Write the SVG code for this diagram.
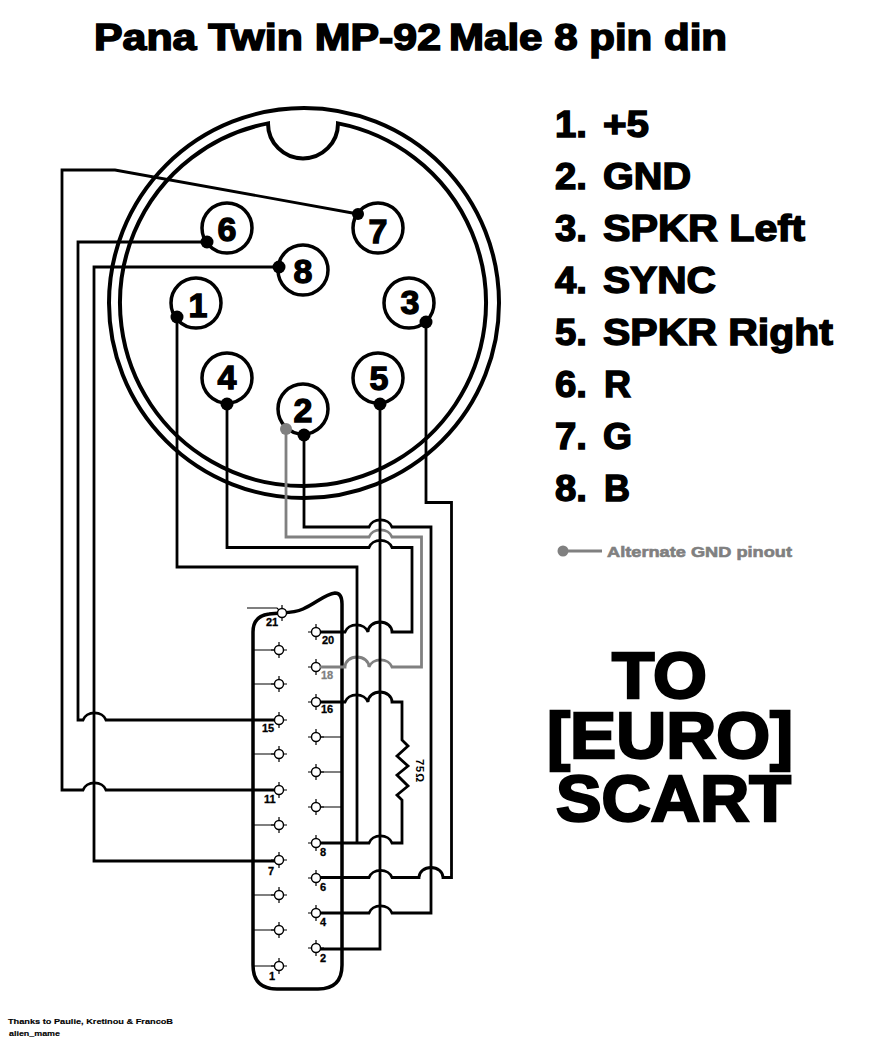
<svg xmlns="http://www.w3.org/2000/svg" xmlns:xlink="http://www.w3.org/1999/xlink" width="884" height="1040" viewBox="0 0 884 1040">
<style>
text{font-family:"Liberation Sans",Arial,sans-serif;font-weight:bold;fill:#000}
.title{font-size:36px;stroke:#000;stroke-width:1.5px}
.list{font-size:36px;stroke:#000;stroke-width:1.4px}
.big{font-size:64px;stroke:#000;stroke-width:2.4px}
.num{font-size:34px;text-anchor:middle;stroke:#000;stroke-width:1.3px}
.lab{font-size:11px;stroke:#000;stroke-width:.3px}
.gray{fill:#808080;stroke:#808080}
.alt{font-size:15px;fill:#808080;stroke:#808080;stroke-width:.6px}
.foot{font-size:8px;stroke:#000;stroke-width:.15px}
.ring{fill:none;stroke:#000;stroke-width:4}
.pinring{fill:#fff;stroke:#000;stroke-width:3.5}
.w{fill:none;stroke:#000;stroke-width:2.8}
.wg{fill:none;stroke:#808080;stroke-width:2.8}
.thin{fill:none;stroke:#000;stroke-width:1.2}
.shell{fill:#fff;stroke:#000;stroke-width:3.5}
.dot{fill:#000}
.dotg{fill:#808080}
.p{fill:#fff;stroke:#000;stroke-width:1.4}
</style>
<defs>
<g id="sp"><path class="thin" d="M0-8V8M-8 0H8"/><circle class="p" r="4.5"/></g>
</defs>
<rect width="884" height="1040" fill="#fff"/>
<g id="title">
<text class="title" x="94" y="50" textLength="347" lengthAdjust="spacingAndGlyphs">Pana Twin MP-92</text>
<text class="title" x="449" y="50" textLength="278" lengthAdjust="spacingAndGlyphs">Male 8 pin din</text>
</g>
<g id="din-shell">
<circle class="ring" cx="304" cy="303" r="195"/>
<path class="ring" d="M268 123.400A183 183 0 1 0 338 123.400A35 35 0 0 1 268 123.400Z"/>
</g>
<g id="din-pin-6"><circle class="pinring" cx="227" cy="228" r="25"/><text class="num" x="227" y="241">6</text></g>
<g id="din-pin-7"><circle class="pinring" cx="378" cy="228" r="25"/><text class="num" x="378" y="243">7</text></g>
<g id="din-pin-8"><circle class="pinring" cx="303" cy="270" r="25"/><text class="num" x="303" y="283">8</text></g>
<g id="din-pin-1"><circle class="pinring" cx="196" cy="303" r="25"/><text class="num" x="198" y="317">1</text></g>
<g id="din-pin-3"><circle class="pinring" cx="409" cy="303" r="25"/><text class="num" x="410" y="314">3</text></g>
<g id="din-pin-4"><circle class="pinring" cx="227" cy="378" r="25"/><text class="num" x="227" y="389">4</text></g>
<g id="din-pin-5"><circle class="pinring" cx="378" cy="378" r="25"/><text class="num" x="379" y="390">5</text></g>
<g id="din-pin-2"><circle class="pinring" cx="303" cy="409" r="25"/><text class="num" x="303" y="422">2</text></g>
<g id="scart">
<path class="shell" d="M253 965V632Q253 616 269 614C282 612 292 614 303 609C315 604 325 594 335 593Q342 593 342 604V965Q342 989 318 989H277Q253 989 253 965Z"/>
<path class="thin" d="M253 650H274M253 684H274M253 754H274M253 825H274M253 895H274M253 930H274M253 966H274M321 737H342M321 772H342M321 807H342M247 608H277L281 612"/>
<use xlink:href="#sp" x="282" y="613"/>
<use xlink:href="#sp" x="279" y="650"/>
<use xlink:href="#sp" x="279" y="684"/>
<use xlink:href="#sp" x="279" y="720"/>
<use xlink:href="#sp" x="279" y="754"/>
<use xlink:href="#sp" x="279" y="790"/>
<use xlink:href="#sp" x="279" y="825"/>
<use xlink:href="#sp" x="279" y="860"/>
<use xlink:href="#sp" x="279" y="895"/>
<use xlink:href="#sp" x="279" y="930"/>
<use xlink:href="#sp" x="279" y="966"/>
<use xlink:href="#sp" x="316" y="632"/>
<use xlink:href="#sp" x="316" y="667"/>
<use xlink:href="#sp" x="316" y="702"/>
<use xlink:href="#sp" x="316" y="737"/>
<use xlink:href="#sp" x="316" y="772"/>
<use xlink:href="#sp" x="316" y="807"/>
<use xlink:href="#sp" x="316" y="843"/>
<use xlink:href="#sp" x="316" y="878"/>
<use xlink:href="#sp" x="316" y="913"/>
<use xlink:href="#sp" x="316" y="948"/>
<text class="lab" x="266" y="626">21</text>
<text class="lab" x="322" y="644">20</text>
<text class="lab gray" x="321" y="679">18</text>
<text class="lab" x="321" y="713">16</text>
<text class="lab" x="262" y="732">15</text>
<text class="lab" x="264" y="803">11</text>
<text class="lab" x="268" y="875">7</text>
<text class="lab" x="320" y="856">8</text>
<text class="lab" x="320" y="891">6</text>
<text class="lab" x="320" y="926">4</text>
<text class="lab" x="320" y="962">2</text>
<text class="lab" x="269" y="980">1</text>
</g>
<g id="connectors">
<path class="wg" d="M286 429V537H369A12 10 0 0 1 392 537H421.500V667H392A12 10 0 0 0 369 667A12 10 0 0 0 345 667H320"/>
<path class="w" d="M358 214L115 170H62V790H83A12 10 0 0 1 106 790H275"/>
<path class="w" d="M207 242H78V720H83A12 10 0 0 1 106 720H275"/>
<path class="w" d="M279 267H94V861H275"/>
<path class="w" d="M177 317V567H357V843"/>
<path class="w" d="M320 843H369A12 10 0 0 1 392 843H402V800L397 795L408 786L397 775L408 766L397 756L408 746L402 740V702H392A12 10 0 0 0 368 702A12 10 0 0 0 345 702H320"/>
<path class="w" d="M227 404V547.500H369A12 10 0 0 1 392 547.500H412V632H392A12 10 0 0 0 368 632A12 10 0 0 0 345 632H320"/>
<path class="w" d="M304 435V527H369A12 10 0 0 1 392 527H431V913H392A12 10 0 0 0 369 913H320"/>
<path class="w" d="M426 322V502.500H451.500V877.500H443A12 10 0 0 0 419 877.500H392A12 10 0 0 0 369 877.500H320"/>
<path class="w" d="M380 404V949H320"/>
<circle class="dot" cx="358" cy="214" r="6"/>
<circle class="dot" cx="207" cy="242" r="6.500"/>
<circle class="dot" cx="279" cy="267" r="6.500"/>
<circle class="dot" cx="177" cy="317" r="6.500"/>
<circle class="dot" cx="426" cy="322" r="6.500"/>
<circle class="dot" cx="227" cy="404" r="6.500"/>
<circle class="dot" cx="380" cy="404" r="6.500"/>
<circle class="dot" cx="304" cy="435" r="6.500"/>
<circle class="dotg" cx="286" cy="429" r="6"/>
</g>
<g id="res-label"><text transform="translate(416 759) rotate(90)" style="font-size:11px;letter-spacing:1px">75Ω</text></g>
<g id="pinout">
<text class="list" x="555" y="137" textLength="32" lengthAdjust="spacingAndGlyphs">1.</text><text class="list" x="603" y="137" textLength="46" lengthAdjust="spacingAndGlyphs">+5</text>
<text class="list" x="555" y="189" textLength="32" lengthAdjust="spacingAndGlyphs">2.</text><text class="list" x="603" y="189" textLength="88" lengthAdjust="spacingAndGlyphs">GND</text>
<text class="list" x="555" y="241" textLength="32" lengthAdjust="spacingAndGlyphs">3.</text><text class="list" x="603" y="241" textLength="202" lengthAdjust="spacingAndGlyphs">SPKR Left</text>
<text class="list" x="555" y="293" textLength="32" lengthAdjust="spacingAndGlyphs">4.</text><text class="list" x="603" y="293" textLength="113" lengthAdjust="spacingAndGlyphs">SYNC</text>
<text class="list" x="555" y="345" textLength="32" lengthAdjust="spacingAndGlyphs">5.</text><text class="list" x="603" y="345" textLength="230" lengthAdjust="spacingAndGlyphs">SPKR Right</text>
<text class="list" x="555" y="397" textLength="32" lengthAdjust="spacingAndGlyphs">6.</text><text class="list" x="604" y="397" textLength="27" lengthAdjust="spacingAndGlyphs">R</text>
<text class="list" x="555" y="449" textLength="32" lengthAdjust="spacingAndGlyphs">7.</text><text class="list" x="603" y="449" textLength="29" lengthAdjust="spacingAndGlyphs">G</text>
<text class="list" x="555" y="501" textLength="32" lengthAdjust="spacingAndGlyphs">8.</text><text class="list" x="604" y="501" textLength="26" lengthAdjust="spacingAndGlyphs">B</text>
</g>
<g id="legend">
<path class="wg" d="M563 551H602"/>
<circle class="dotg" cx="563" cy="551" r="5.500"/>
<text class="alt" x="607" y="557" textLength="185" lengthAdjust="spacingAndGlyphs">Alternate GND pinout</text>
</g>
<g id="to-scart">
<text class="big" x="612" y="698" textLength="95" lengthAdjust="spacingAndGlyphs">TO</text>
<text class="big" x="547" y="758" textLength="246" lengthAdjust="spacingAndGlyphs">[EURO]</text>
<text class="big" x="556" y="821" textLength="235" lengthAdjust="spacingAndGlyphs">SCART</text>
</g>
<g id="credits">
<text class="foot" x="8" y="1024" textLength="165" lengthAdjust="spacingAndGlyphs">Thanks to Paulie, Kretinou &amp; FrancoB</text>
<text class="foot" x="9" y="1036" textLength="51" lengthAdjust="spacingAndGlyphs">alien_mame</text>
</g>
</svg>
